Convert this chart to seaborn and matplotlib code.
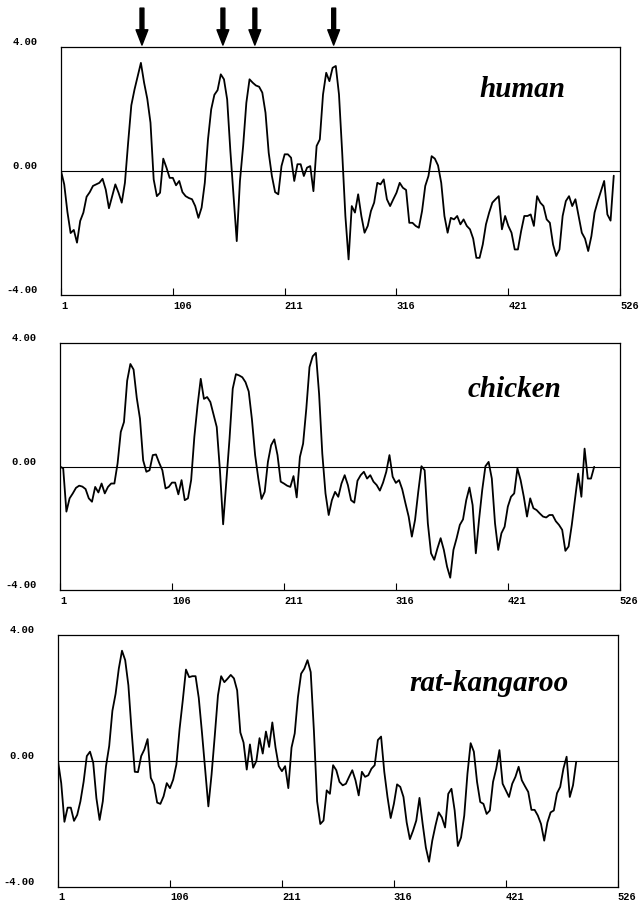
import numpy as np
import pandas as pd
import matplotlib
matplotlib.use("Agg")
import matplotlib.pyplot as plt
import seaborn as sns

# hydropathy profiles, one value every 3 residues from residue 1
species = ["human", "chicken", "rat-kangaroo"]
step = 3

human = [
    0.0, -0.43, -1.32, -2.0, -1.9, -2.31, -1.61, -1.34, -0.83, -0.68,
    -0.48, -0.43, -0.38, -0.25, -0.6, -1.2, -0.81, -0.43, -0.70, -1.02,
    -0.38, 0.91, 2.12, 2.63, 3.06, 3.49, 2.85, 2.33, 1.56, -0.27,
    -0.81, -0.70, 0.40, 0.11, -0.22, -0.22, -0.46, -0.32, -0.68, -0.81,
    -0.87, -0.91, -1.13, -1.51, -1.18, -0.38, 1.02, 1.99, 2.46, 2.61,
    3.12, 2.96, 2.31, 0.65, -0.81, -2.26, -0.32, 0.81, 2.20, 2.96,
    2.85, 2.76, 2.72, 2.53, 1.88, 0.59, -0.16, -0.68, -0.75, 0.16,
    0.54, 0.54, 0.43, -0.32, 0.22, 0.22, -0.16, 0.11, 0.16, -0.65,
    0.81, 1.02, 2.47, 3.17, 2.90, 3.33, 3.39, 2.47, 0.6, -1.45,
    -2.85, -1.13, -1.34, -0.75, -1.45, -1.99, -1.77, -1.29, -1.02, -0.38,
    -0.43, -0.27, -0.91, -1.13, -0.91, -0.70, -0.38, -0.54, -0.61, -1.67,
    -1.67, -1.77, -1.83, -1.29, -0.48, -0.16, 0.48, 0.40, 0.18, -0.38,
    -1.45, -1.99, -1.51, -1.56, -1.45, -1.72, -1.56, -1.77, -1.88, -2.18,
    -2.80, -2.80, -2.37, -1.72, -1.34, -1.02, -0.91, -0.81, -1.88, -1.45,
    -1.77, -1.99, -2.53, -2.53, -1.94, -1.45, -1.45, -1.40, -1.77, -0.81,
    -1.02, -1.13, -1.56, -1.67, -2.37, -2.74, -2.53, -1.45, -0.97, -0.81,
    -1.13, -0.91, -1.45, -1.99, -2.18, -2.58, -2.10, -1.34, -0.97, -0.65,
    -0.32, -1.40, -1.6, -0.15,
]

chicken = [
    0.0, -0.06, -1.46, -1.03, -0.87, -0.69, -0.62, -0.65, -0.73, -1.03,
    -1.14, -0.66, -0.84, -0.55, -0.87, -0.66, -0.55, -0.55, 0.10, 1.12,
    1.44, 2.78, 3.32, 3.14, 2.22, 1.55, 0.20, -0.17, -0.12, 0.37,
    0.39, 0.12, -0.12, -0.71, -0.66, -0.52, -0.52, -0.90, -0.44, -1.09,
    -1.03, -0.44, 0.96, 1.98, 2.84, 2.19, 2.25, 2.09, 1.69, 1.28,
    -0.12, -1.87, -0.49, 0.90, 2.52, 2.99, 2.95, 2.89, 2.73, 2.43,
    1.53, 0.37, -0.39, -1.05, -0.82, 0.15, 0.69, 0.88, 0.37, -0.49,
    -0.55, -0.62, -0.66, -0.31, -1.0, 0.31, 0.74, 1.87, 3.22, 3.57,
    3.68, 2.35, 0.42, -0.87, -1.57, -1.09, -0.82, -0.98, -0.55, -0.28,
    -0.60, -1.09, -1.17, -0.46, -0.28, -0.17, -0.39, -0.28, -0.49, -0.60,
    -0.78, -0.52, -0.17, 0.37, -0.33, -0.53, -0.44, -0.74, -1.19, -1.62,
    -2.27, -1.73, -0.82, 0.01, -0.12, -1.84, -2.81, -3.02, -2.65, -2.32,
    -2.70, -3.24, -3.6, -2.70, -2.32, -1.89, -1.71, -1.09, -0.68, -1.25,
    -2.81, -1.73, -0.76, 0.01, 0.15, -0.39, -1.84, -2.70, -2.16, -1.95,
    -1.30, -0.98, -0.87, -0.06, -0.44, -0.98, -1.62, -1.03, -1.35, -1.41,
    -1.52, -1.62, -1.65, -1.57, -1.57, -1.77, -1.89, -2.05, -2.73, -2.59,
    -1.89, -1.06, -0.23, -0.98, 0.58, -0.39, -0.39, -0.01,
]

rat_kangaroo = [
    0.0, -0.70, -1.93, -1.48, -1.48, -1.90, -1.71, -1.28, -0.66, 0.16,
    0.30, -0.05, -1.18, -1.87, -1.28, -0.16, 0.48, 1.60, 2.14, 2.94,
    3.51, 3.21, 2.41, 0.96, -0.34, -0.35, 0.16, 0.37, 0.70, -0.53,
    -0.75, -1.32, -1.36, -1.12, -0.70, -0.86, -0.59, -0.11, 1.02, 1.93,
    2.91, 2.67, 2.70, 2.70, 2.01, 0.91, -0.27, -1.44, -0.43, 0.80,
    2.09, 2.70, 2.51, 2.62, 2.74, 2.63, 2.25, 0.91, 0.59, -0.27,
    0.53, -0.21, 0.0, 0.73, 0.24, 0.94, 0.45, 1.23, 0.43, -0.16,
    -0.32, -0.16, -0.86, 0.43, 0.88, 2.03, 2.78, 2.94, 3.21, 2.83,
    0.96, -1.28, -2.0, -1.89, -0.93, -1.04, -0.13, -0.29, -0.66, -0.77,
    -0.72, -0.50, -0.29, -0.61, -1.09, -0.34, -0.50, -0.45, -0.24, -0.13,
    0.67, 0.78, -0.34, -1.14, -1.81, -1.36, -0.74, -0.82, -1.14, -1.95,
    -2.48, -2.21, -1.89, -1.17, -2.0, -2.75, -3.2, -2.53, -2.05, -1.63,
    -1.79, -2.11, -1.04, -0.88, -1.57, -2.70, -2.43, -1.73, -0.40, 0.57,
    0.30, -0.66, -1.30, -1.36, -1.68, -1.57, -0.66, -0.24, 0.35, -0.72,
    -0.93, -1.14, -0.72, -0.50, -0.18, -0.61, -0.80, -0.98, -1.55, -1.55,
    -1.73, -2.0, -2.53, -1.95, -1.63, -1.57, -1.02, -0.82, -0.24, 0.14,
    -1.14, -0.77, -0.02,
]

arrow_residues = [77, 153, 183, 257]
x_ticks = [1, 106, 211, 316, 421, 526]
y_ticks = [-4, 0, 4]
y_tick_labels = ["-4.00", "0.00", "4.00"]

frames = []
for name, vals in zip(species, [human, chicken, rat_kangaroo]):
    frames.append(pd.DataFrame({
        "species": name,
        "residue": np.arange(len(vals)) * step + 1,
        "hydropathy": vals,
    }))
df = pd.concat(frames, ignore_index=True)

sns.set_style("white", {"text.color": "black", "xtick.color": "black",
                        "ytick.color": "black", "axes.edgecolor": "black"})
plt.rcParams["font.family"] = ["Liberation Serif", "DejaVu Serif"]

fig = plt.figure(figsize=(6.39, 9.05), dpi=100)
boxes = [[0.0955, 0.674, 0.875, 0.274],
         [0.0939, 0.348, 0.876, 0.273],
         [0.0908, 0.020, 0.876, 0.278]]
name_pos = [(0.825, 0.83), (0.812, 0.81), (0.77, 0.81)]
tick_font = dict(family="Liberation Mono", weight="bold", size=7.5, color="black")

for k, name in enumerate(species):
    ax = fig.add_axes(boxes[k])
    sub = df[df["species"] == name]
    sns.lineplot(data=sub, x="residue", y="hydropathy", color="black",
                 linewidth=1.3, estimator=None, ax=ax)
    ax.axhline(0, color="black", linewidth=0.8)
    ax.set_xlim(1, 526)
    ax.set_ylim(-4, 4)
    ax.set_xlabel("")
    ax.set_ylabel("")
    for s in ax.spines.values():
        s.set_linewidth(0.9)
        s.set_color("black")

    ax.set_xticks(x_ticks)
    ax.set_xticklabels([str(t) for t in x_ticks], fontdict=tick_font)
    for lab in ax.get_xticklabels():
        lab.set_horizontalalignment("left")
    ax.set_yticks(y_ticks)
    ax.set_yticklabels(y_tick_labels, fontdict=tick_font)
    for lab in ax.get_yticklabels():
        lab.set_verticalalignment("bottom")
    ax.tick_params(axis="x", direction="in", length=5, width=0.8, pad=4,
                   bottom=True, color="black")
    ax.tick_params(axis="y", length=0, pad=17, left=True)

    ax.text(name_pos[k][0], name_pos[k][1], name, transform=ax.transAxes,
            ha="center", va="center", fontsize=21, fontweight="bold",
            fontstyle="italic", family="Liberation Serif", color="black")

    if name == "human":
        for r in arrow_residues:
            ax.annotate("", xy=(r, 1.008), xycoords=("data", "axes fraction"),
                        xytext=(r, 1.157), textcoords=("data", "axes fraction"),
                        arrowprops=dict(facecolor="black", edgecolor="black",
                                        width=2.8, headwidth=8.5, headlength=11,
                                        shrink=0))

fig.savefig("out.png", dpi=100)
